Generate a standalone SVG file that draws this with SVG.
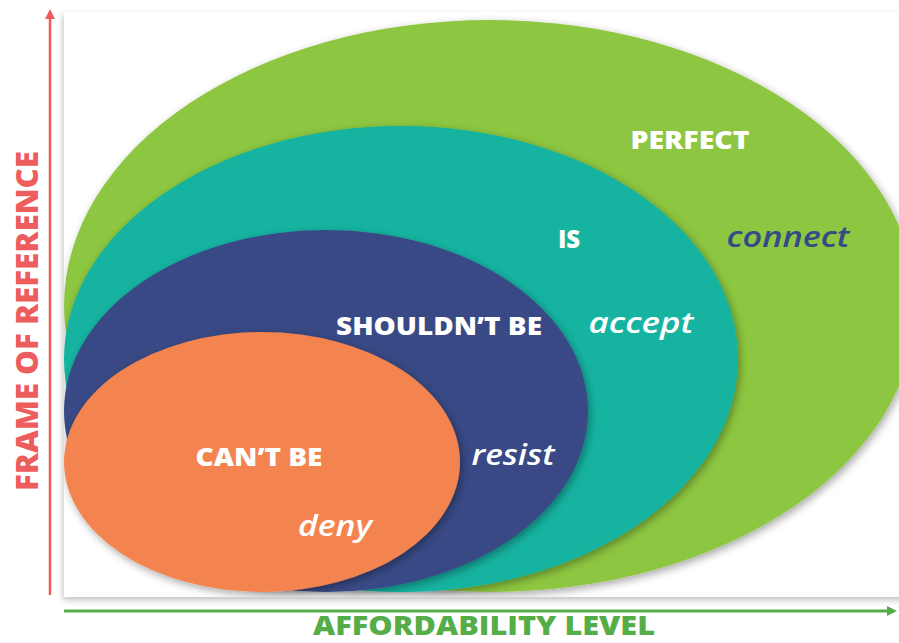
<svg xmlns="http://www.w3.org/2000/svg" width="899" height="643" viewBox="0 0 899 643">
<style>
.lbl{font-family:"Open Sans","Liberation Sans",sans-serif;font-weight:800;fill:#fff;font-size:24px}
.verb{font-family:"Open Sans","Liberation Sans",sans-serif;font-style:italic;font-weight:600;fill:#fff;font-size:29px}
.axis{font-family:"Open Sans","Liberation Sans",sans-serif;font-weight:800;font-size:30px}
.axisb{font-family:"Open Sans","Liberation Sans",sans-serif;font-weight:800;font-size:27px}
</style>
<defs>
<filter id="sh" x="-10%" y="-10%" width="120%" height="125%">
<feGaussianBlur in="SourceAlpha" stdDeviation="4"/>
<feOffset dx="2" dy="3"/>
<feComponentTransfer><feFuncA type="linear" slope="0.35"/></feComponentTransfer>
<feMerge><feMergeNode/><feMergeNode in="SourceGraphic"/></feMerge>
</filter>
<filter id="psh" x="-5%" y="-5%" width="110%" height="110%">
<feGaussianBlur in="SourceAlpha" stdDeviation="3"/>
<feOffset dx="-1" dy="3"/>
<feComponentTransfer><feFuncA type="linear" slope="0.25"/></feComponentTransfer>
<feMerge><feMergeNode/><feMergeNode in="SourceGraphic"/></feMerge>
</filter>
<clipPath id="panelClip"><rect x="64" y="12" width="840" height="585"/></clipPath>
<marker id="ahR" markerWidth="10" markerHeight="10" refX="5" refY="5" orient="auto" markerUnits="userSpaceOnUse"><path d="M0,0 L10,5 L0,10 z" fill="#ee5d5d"/></marker>
<marker id="ahG" markerWidth="10" markerHeight="10" refX="5" refY="5" orient="auto" markerUnits="userSpaceOnUse"><path d="M0,0 L10,5 L0,10 z" fill="#55ad47"/></marker>
</defs>
<rect width="899" height="643" fill="#fff"/>
<rect x="64" y="12" width="845" height="585" fill="#fff" filter="url(#psh)"/>
<g clip-path="url(#panelClip)">
<g id="perfect"><ellipse cx="490" cy="306" rx="426" ry="286" fill="#8dc63f" filter="url(#sh)"/></g>
<g id="is"><ellipse cx="401" cy="359" rx="337" ry="233" fill="#13b3a1" filter="url(#sh)"/></g>
<g id="shouldnt"><ellipse cx="326" cy="411" rx="262" ry="181" fill="#394a85" filter="url(#sh)"/></g>
<g id="cant"><ellipse cx="262" cy="462" rx="198" ry="130" fill="#f3844f" filter="url(#sh)"/></g>
</g>
<g id="labels">
<text class="lbl" x="690" y="149" text-anchor="middle" textLength="119" lengthAdjust="spacingAndGlyphs">PERFECT</text>
<text class="verb" x="788" y="247" text-anchor="middle" style="fill:#354a87" textLength="123" lengthAdjust="spacingAndGlyphs">connect</text>
<text class="lbl" x="569" y="248" text-anchor="middle">IS</text>
<text class="verb" x="641" y="333" text-anchor="middle" textLength="105" lengthAdjust="spacingAndGlyphs">accept</text>
<text class="lbl" x="439" y="335" text-anchor="middle" textLength="206" lengthAdjust="spacingAndGlyphs">SHOULDN’T BE</text>
<text class="verb" x="513" y="465" text-anchor="middle" textLength="83" lengthAdjust="spacingAndGlyphs">resist</text>
<text class="lbl" x="259" y="466" text-anchor="middle" textLength="127" lengthAdjust="spacingAndGlyphs">CAN’T BE</text>
<text class="verb" x="335" y="536" text-anchor="middle" textLength="74" lengthAdjust="spacingAndGlyphs">deny</text>
</g>
<g id="connectors">
<line x1="50" y1="595" x2="50" y2="14" stroke="#ee5d5d" stroke-width="2.5" marker-end="url(#ahR)"/>
<line x1="64" y1="611" x2="892" y2="611" stroke="#55ad47" stroke-width="3" marker-end="url(#ahG)"/>
</g>
<g id="axis-labels">
<text class="axis" x="0" y="0" transform="translate(38,321) rotate(-90)" text-anchor="middle" fill="#ee5d5d" textLength="340" lengthAdjust="spacingAndGlyphs">FRAME OF REFERENCE</text>
<text class="axisb" x="484" y="635" text-anchor="middle" fill="#55ad47" textLength="342" lengthAdjust="spacingAndGlyphs">AFFORDABILITY LEVEL</text>
</g>
</svg>
